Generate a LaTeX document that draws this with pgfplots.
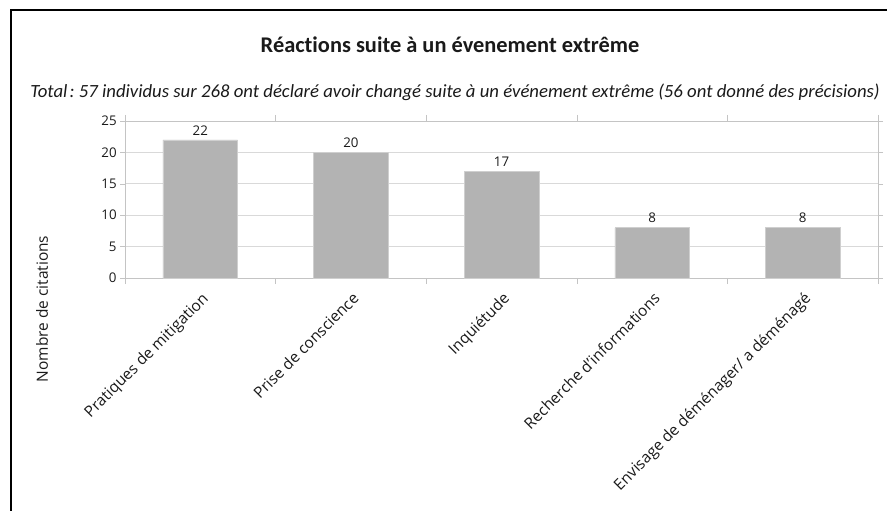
\documentclass[border=0pt]{standalone}
\usepackage{fontspec}
\setmainfont{Open Sans}
\newfontfamily\carlito[Ligatures={NoCommon,NoRare,NoContextual}]{Carlito}
\usepackage{pgfplots}
\pgfplotsset{compat=1.18}
\definecolor{barfill}{HTML}{B3B3B3}
\definecolor{baredge}{HTML}{CFCFCF}
\definecolor{gridc}{HTML}{D9D9D9}
\definecolor{axisc}{HTML}{C4C4C4}
\definecolor{txt}{HTML}{1A1A1A}
\begin{document}
\begin{tikzpicture}
\useasboundingbox (0,0) rectangle (665.25pt,382.5pt);
\draw[line width=1.5pt] (8.25pt,-2pt) -- (8.25pt,375pt) -- (667pt,375pt);
\node[font=\carlito\bfseries\fontsize{16.8pt}{20pt}\selectfont, text=txt] at (337.5pt,348.75pt) {Réactions suite à un évenement extrême};
\node[text=txt, inner sep=0pt] at (341.25pt,313.5pt) {\resizebox{637pt}{10.2pt}{\carlito\itshape\fontsize{14pt}{17pt}\selectfont Total\kern0.12em:\kern0.22em57 individus sur 268 ont déclaré avoir changé suite à un événement extrême (56 ont donné des précisions)}};
\node[rotate=90, font=\fontsize{11.6pt}{13pt}\selectfont, text=txt] at (31.5pt,150.75pt) {Nombre de citations};
\begin{axis}[
  at={(93.75pt,174pt)}, anchor=south west,
  scale only axis, width=564.75pt, height=117.75pt,
  xmin=-0.5, xmax=4.5, ymin=0, ymax=25,
  ytick={0,5,10,15,20,25},
  xtick={0,1,2,3,4},
  xticklabels={Pratiques de mitigation, Prise de conscience, Inquiétude, Recherche d'informations, Envisage de déménager/ a déménagé},
  minor xtick={-0.5,0.5,1.5,2.5,3.5,4.5},
  tick align=outside,
  major tick length=3.75pt,
  minor tick length=4.5pt,
  x tick style={draw=none},
  minor x tick style={draw=axisc},
  y tick style={draw=axisc},
  ymajorgrids, grid style={draw=gridc, line width=0.6pt},
  axis line style={draw=axisc, line width=0.6pt},
  /pgf/number format/assume math mode=true,
  yticklabel style={font=\fontsize{10pt}{11pt}\selectfont, text=txt, xshift=1pt},
  xticklabel style={font=\fontsize{11.6pt}{13pt}\selectfont, text=txt, rotate=45, anchor=north east, inner sep=1pt, xshift=-3pt, yshift=-3.5pt},
  ybar, bar width=56pt,
  nodes near coords,
  every node near coord/.append style={font=\fontsize{10pt}{11pt}\selectfont, text=txt},
  axis on top=false,
]
\addplot[fill=barfill, draw=baredge] coordinates {(0,22) (1,20) (2,17) (3,8) (4,8)};
\end{axis}
\end{tikzpicture}
\end{document}
